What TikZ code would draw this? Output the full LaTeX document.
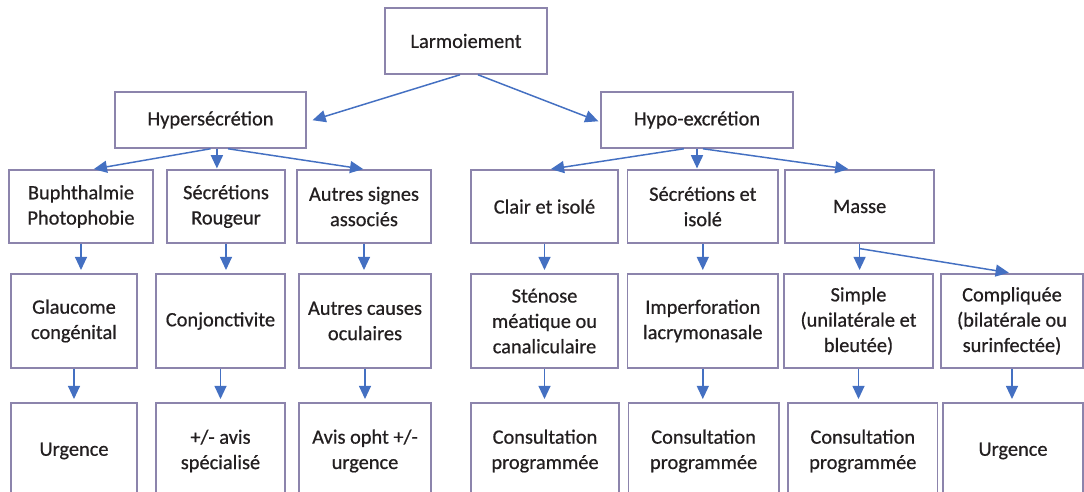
\documentclass[tikz,border=0pt]{standalone}
\usepackage{fontspec}
\setmainfont{Carlito}
\newfontfamily\boxfont{Carlito}[FakeBold=0.6]
\usetikzlibrary{arrows.meta}
\definecolor{boxline}{HTML}{8C84AC}
\definecolor{arrblue}{HTML}{4470C2}
\definecolor{txt}{HTML}{231F20}

\begin{document}
\begin{tikzpicture}[
  block/.style={draw=boxline, line width=1.1pt, align=center, text=txt,
                font=\boxfont\fontsize{14.5}{18}\selectfont, inner sep=2pt},
  arr/.style={draw=arrblue, line width=1.05pt,
              -{Triangle[length=0.33cm, width=0.3cm]}, shorten >=0.08cm},
]
  \useasboundingbox (0,0) rectangle (27.1,-12.3);
  \fill[white] (0,0) rectangle (27.1,-12.3);
  \clip (0,0) rectangle (27.1,-12.3);

  % level 1 and 2
  \node[block, minimum width=4.05cm, minimum height=1.65cm] (lar) at (11.65,-1.025) {Larmoiement};
  \node[block, minimum width=4.775cm, minimum height=1.4cm] (hyper) at (5.2625,-3.0) {Hypersécrétion};
  \node[block, minimum width=4.8cm, minimum height=1.4cm] (hypo) at (17.425,-3.0) {Hypo-excrétion};

  % signs
  \node[block, minimum width=3.6cm, minimum height=1.825cm] (buph) at (2.025,-5.1625) {Buphthalmie\\Photophobie};
  \node[block, minimum width=2.95cm, minimum height=1.825cm] (secr) at (5.65,-5.1625) {Sécrétions\\Rougeur};
  \node[block, minimum width=3.35cm, minimum height=1.825cm] (autr) at (9.1,-5.1625) {Autres signes\\associés};
  \node[block, minimum width=3.675cm, minimum height=1.825cm] (clair) at (13.6125,-5.1625) {Clair et isolé};
  \node[block, minimum width=3.76cm, minimum height=1.825cm] (secis) at (17.57,-5.1625) {Sécrétions et\\isolé};
  \node[block, minimum width=3.725cm, minimum height=1.825cm] (masse) at (21.49,-5.1625) {Masse};

  % causes
  \node[block, minimum width=3.15cm, minimum height=2.35cm] (glauc) at (1.85,-8.025) {Glaucome\\congénital};
  \node[block, minimum width=3.225cm, minimum height=2.35cm] (conj) at (5.5125,-8.025) {Conjonctivite};
  \node[block, minimum width=3.3cm, minimum height=2.35cm] (autc) at (9.125,-8.025) {Autres causes\\oculaires};
  \node[block, minimum width=3.675cm, minimum height=2.35cm] (sten) at (13.6125,-8.025) {Sténose\\méatique ou\\canaliculaire};
  \node[block, minimum width=3.76cm, minimum height=2.35cm] (imperf) at (17.57,-8.025) {Imperforation\\lacrymonasale};
  \node[block, minimum width=3.725cm, minimum height=2.35cm] (simple) at (21.4625,-8.025) {Simple\\(unilatérale et\\bleutée)};
  \node[block, minimum width=3.55cm, minimum height=2.35cm] (compl) at (25.3,-8.025) {Compliquée\\(bilatérale ou\\surinfectée)};

  % what to do
  \node[block, minimum width=3.15cm, minimum height=2.4cm] (urga) at (1.85,-11.275) {Urgence};
  \node[block, minimum width=3.225cm, minimum height=2.4cm] (avis) at (5.5125,-11.275) {+/- avis\\spécialisé};
  \node[block, minimum width=3.3cm, minimum height=2.4cm] (opht) at (9.125,-11.275) {Avis opht +/-\\urgence};
  \node[block, minimum width=3.7cm, minimum height=2.4cm] (consa) at (13.625,-11.275) {Consultation\\programmée};
  \node[block, minimum width=3.76cm, minimum height=2.4cm] (consb) at (17.59,-11.275) {Consultation\\programmée};
  \node[block, minimum width=3.74cm, minimum height=2.4cm] (consc) at (21.57,-11.275) {Consultation\\programmée};
  \node[block, minimum width=3.5cm, minimum height=2.4cm] (urgb) at (25.325,-11.275) {Urgence};

  \draw[arr, shorten >=0.15cm] ([xshift=-0.15cm]lar.south) -- ([yshift=-0.05cm]hyper.east);
  \draw[arr, shorten >=0.05cm] ([xshift=0.3cm]lar.south) -- ([yshift=-0.05cm]hypo.west);

  \draw[arr, shorten >=0.02cm] (hyper.south) -- ([xshift=0.3cm]buph.north);
  \draw[arr, shorten >=0.02cm] ([xshift=0.16cm]hyper.south) -- ([xshift=0.16cm]hyper.south |- secr.north);
  \draw[arr, shorten >=0.02cm] ([xshift=0.44cm]hyper.south) -- (autr.north);

  \draw[arr, shorten >=0.02cm] ([xshift=-0.33cm]hypo.south) -- ([xshift=0.14cm]clair.north);
  \draw[arr, shorten >=0.02cm] (hypo.south) -- (hypo.south |- secis.north);
  \draw[arr, shorten >=0.02cm] ([xshift=0.15cm]hypo.south) -- ([xshift=-0.26cm]masse.north);

  \foreach \a/\b in {buph/glauc, secr/conj, autr/autc, clair/sten, secis/imperf,
                     glauc/urga, conj/avis, autc/opht, sten/consa, imperf/consb,
                     simple/consc, compl/urgb}
    \draw[arr] (\a.south) -- (\a.south |- \b.north);

  \coordinate (split) at ([yshift=-0.12cm]masse.south);
  \draw[arrblue, line width=1.05pt] (masse.south) -- (split);
  \draw[arr] (split) -- (split |- simple.north);
  \draw[arr] (split) -- (compl.north);
\end{tikzpicture}
\end{document}
